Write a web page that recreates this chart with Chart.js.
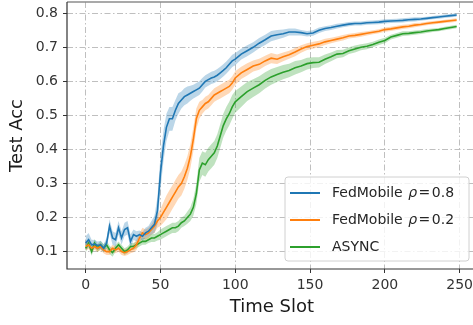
<!DOCTYPE html>
<html>
<head>
<meta charset="utf-8">
<script src="https://cdn.jsdelivr.net/npm/chart.js@4.4.1/dist/chart.umd.min.js"></script>
<style>
  html, body { margin: 0; padding: 0; background: #fff; overflow: hidden; }
  #wrap { width: 480px; height: 325px; }
</style>
</head>
<body>
<div id="wrap"><canvas id="accChart" width="480" height="325"></canvas></div>
<script>
// time slots (dense where the curves climb, sparser later)
const timeSlots = [
    0, 2, 4, 6, 8, 10, 12, 14, 16, 18,
    20, 22, 24, 26, 28, 30, 32, 34, 36, 38,
    40, 42, 44, 46, 48, 50, 52, 54, 56, 58,
    60, 62, 64, 66, 68, 70, 72, 74, 76, 78,
    80, 82, 84, 86, 88, 90, 92, 94, 96, 98,
    100,
    104, 108, 112, 116, 120, 124, 128, 132, 136, 140,
    144, 148, 152, 156, 160, 164, 168, 172, 176, 180,
    184, 188, 192, 196, 200, 204, 208, 212, 216, 220,
    224, 228, 232, 236, 240, 244, 248
];

const fedMobile08 = [
    0.125, 0.135, 0.120, 0.122, 0.118, 0.120, 0.110, 0.125, 0.175, 0.140,
    0.135, 0.170, 0.140, 0.165, 0.170, 0.130, 0.150, 0.145, 0.150, 0.145,
    0.155, 0.160, 0.170, 0.180, 0.220, 0.330, 0.410, 0.465, 0.490, 0.490,
    0.515, 0.535, 0.545, 0.555, 0.560, 0.565, 0.570, 0.575, 0.580, 0.590,
    0.600, 0.605, 0.610, 0.613, 0.618, 0.625, 0.632, 0.640, 0.650, 0.660,
    0.665,
    0.680, 0.690, 0.700, 0.712, 0.722, 0.733, 0.737, 0.740, 0.745, 0.745,
    0.743, 0.740, 0.742, 0.750, 0.755, 0.758, 0.762, 0.765, 0.768, 0.770,
    0.770, 0.772, 0.773, 0.774, 0.776, 0.777, 0.778, 0.779, 0.781, 0.782,
    0.783, 0.785, 0.787, 0.789, 0.791, 0.793, 0.795
];
const fedMobile02 = [
    0.115, 0.120, 0.110, 0.115, 0.110, 0.115, 0.105, 0.100, 0.100, 0.110,
    0.105, 0.110, 0.100, 0.097, 0.100, 0.105, 0.110, 0.120, 0.140, 0.155,
    0.150, 0.155, 0.165, 0.175, 0.190, 0.200, 0.215, 0.230, 0.245, 0.260,
    0.275, 0.290, 0.300, 0.320, 0.345, 0.380, 0.430, 0.490, 0.515, 0.525,
    0.535, 0.540, 0.550, 0.560, 0.565, 0.570, 0.575, 0.580, 0.585, 0.595,
    0.610,
    0.625, 0.635, 0.645, 0.650, 0.660, 0.668, 0.665, 0.672, 0.678, 0.686,
    0.695, 0.702, 0.706, 0.710, 0.716, 0.720, 0.724, 0.728, 0.733, 0.735,
    0.738, 0.741, 0.744, 0.747, 0.752, 0.754, 0.757, 0.760, 0.762, 0.765,
    0.767, 0.770, 0.772, 0.774, 0.776, 0.778, 0.780
];
const asyncAcc = [
    0.110, 0.125, 0.100, 0.125, 0.110, 0.120, 0.110, 0.120, 0.105, 0.097,
    0.110, 0.120, 0.110, 0.100, 0.105, 0.115, 0.115, 0.120, 0.125, 0.130,
    0.130, 0.135, 0.140, 0.140, 0.145, 0.150, 0.155, 0.160, 0.165, 0.170,
    0.170, 0.175, 0.185, 0.190, 0.200, 0.210, 0.230, 0.270, 0.340, 0.360,
    0.355, 0.370, 0.380, 0.390, 0.410, 0.440, 0.470, 0.490, 0.505, 0.525,
    0.540,
    0.555, 0.570, 0.580, 0.590, 0.603, 0.613, 0.620, 0.627, 0.632, 0.640,
    0.645, 0.652, 0.655, 0.656, 0.665, 0.672, 0.680, 0.682, 0.690, 0.695,
    0.700, 0.703, 0.708, 0.715, 0.720, 0.730, 0.735, 0.740, 0.741, 0.743,
    0.745, 0.748, 0.750, 0.752, 0.755, 0.758, 0.761
];

// half width of the shaded bands
const fedMobile08Spread = [
    0.020, 0.020, 0.015, 0.012, 0.012, 0.012, 0.012, 0.015, 0.020, 0.020,
    0.020, 0.020, 0.020, 0.020, 0.020, 0.020, 0.015, 0.015, 0.012, 0.012,
    0.015, 0.015, 0.020, 0.025, 0.040, 0.050, 0.045, 0.040, 0.035, 0.035,
    0.030, 0.030, 0.025, 0.025, 0.025, 0.022, 0.020, 0.020, 0.020, 0.020,
    0.018, 0.018, 0.018, 0.018, 0.018, 0.018, 0.018, 0.018, 0.018, 0.018,
    0.018,
    0.016, 0.016, 0.015, 0.015, 0.015, 0.015, 0.014, 0.012, 0.010, 0.010,
    0.008, 0.008, 0.008, 0.008, 0.007, 0.007, 0.007, 0.006, 0.006, 0.006,
    0.006, 0.006, 0.006, 0.006, 0.006, 0.006, 0.006, 0.006, 0.006, 0.006,
    0.005, 0.005, 0.005, 0.005, 0.005, 0.005, 0.005
];
const fedMobile02Spread = [
    0.012, 0.012, 0.010, 0.010, 0.010, 0.010, 0.010, 0.010, 0.010, 0.010,
    0.010, 0.010, 0.010, 0.010, 0.010, 0.010, 0.012, 0.015, 0.015, 0.015,
    0.015, 0.015, 0.015, 0.020, 0.020, 0.025, 0.030, 0.035, 0.035, 0.035,
    0.035, 0.035, 0.035, 0.035, 0.035, 0.035, 0.035, 0.030, 0.025, 0.020,
    0.020, 0.020, 0.020, 0.020, 0.020, 0.020, 0.020, 0.020, 0.020, 0.020,
    0.020,
    0.018, 0.018, 0.016, 0.016, 0.015, 0.015, 0.014, 0.013, 0.012, 0.012,
    0.011, 0.010, 0.010, 0.009, 0.009, 0.008, 0.008, 0.008, 0.007, 0.007,
    0.007, 0.006, 0.006, 0.006, 0.006, 0.006, 0.006, 0.006, 0.006, 0.006,
    0.005, 0.005, 0.005, 0.005, 0.005, 0.005, 0.005
];
const asyncSpread = [
    0.012, 0.012, 0.012, 0.012, 0.012, 0.012, 0.012, 0.012, 0.012, 0.012,
    0.010, 0.010, 0.010, 0.010, 0.010, 0.010, 0.010, 0.010, 0.010, 0.010,
    0.010, 0.010, 0.012, 0.012, 0.012, 0.015, 0.015, 0.015, 0.015, 0.015,
    0.015, 0.015, 0.015, 0.015, 0.018, 0.020, 0.025, 0.030, 0.035, 0.035,
    0.035, 0.035, 0.035, 0.035, 0.035, 0.035, 0.035, 0.035, 0.035, 0.035,
    0.032,
    0.030, 0.028, 0.026, 0.025, 0.024, 0.023, 0.022, 0.021, 0.020, 0.020,
    0.018, 0.017, 0.016, 0.015, 0.014, 0.013, 0.012, 0.011, 0.010, 0.010,
    0.009, 0.009, 0.008, 0.008, 0.008, 0.007, 0.007, 0.007, 0.006, 0.006,
    0.006, 0.006, 0.005, 0.005, 0.005, 0.005, 0.005
];

const xTicks = [0, 50, 100, 150, 200, 250];
const yTicks = [0.1, 0.2, 0.3, 0.4, 0.5, 0.6, 0.7, 0.8];

const seriesNames = ['FedMobile', 'FedMobile', 'ASYNC'];
const seriesRho = ['0.8', '0.2', null];
const seriesColors = ['#1f77b4', '#ff7f0e', '#2ca02c'];
const bandColors = ['rgba(31,119,180,0.3)', 'rgba(255,127,14,0.3)', 'rgba(44,160,44,0.3)'];

const FONT = '"DejaVu Sans", Verdana, sans-serif';

function toPoints(values, spread, sign) {
    return timeSlots.map((t, i) => ({ x: t, y: values[i] + sign * (spread ? spread[i] : 0) }));
}

function buildDatasets() {
    const means = [fedMobile08, fedMobile02, asyncAcc];
    const spreads = [fedMobile08Spread, fedMobile02Spread, asyncSpread];
    const sets = [];
    means.forEach((vals, k) => {
        sets.push({
            data: toPoints(vals, spreads[k], -1),
            borderWidth: 0, pointRadius: 0, fill: false, order: 2,
            borderColor: 'rgba(0,0,0,0)'
        });
        sets.push({
            data: toPoints(vals, spreads[k], 1),
            borderWidth: 0, pointRadius: 0, order: 2,
            borderColor: 'rgba(0,0,0,0)',
            backgroundColor: bandColors[k],
            fill: '-1'
        });
    });
    means.forEach((vals, k) => {
        sets.push({
            data: toPoints(vals, null, 0),
            borderColor: seriesColors[k],
            borderWidth: 1.6, pointRadius: 0, fill: false, order: 1,
            tension: 0
        });
    });
    return sets;
}

// spines + legend box
const framePlugin = {
    id: 'frame',
    afterDraw(chart) {
        const { ctx, chartArea } = chart;
        ctx.save();
        ctx.strokeStyle = '#8c8c8c';
        ctx.lineWidth = 1.5;
        ctx.beginPath();
        ctx.moveTo(chartArea.left, chartArea.top);
        ctx.lineTo(chartArea.right, chartArea.top);
        ctx.stroke();

        ctx.strokeStyle = '#333';
        ctx.lineWidth = 1.2;
        ctx.beginPath();
        ctx.moveTo(chartArea.left, chartArea.top);
        ctx.lineTo(chartArea.left, chartArea.bottom);
        ctx.lineTo(chartArea.right, chartArea.bottom);
        ctx.stroke();

        // legend
        const bx = 285, by = 177, bw = 184, bh = 84, r = 3;
        ctx.beginPath();
        ctx.moveTo(bx + r, by);
        ctx.arcTo(bx + bw, by, bx + bw, by + bh, r);
        ctx.arcTo(bx + bw, by + bh, bx, by + bh, r);
        ctx.arcTo(bx, by + bh, bx, by, r);
        ctx.arcTo(bx, by, bx + bw, by, r);
        ctx.closePath();
        ctx.fillStyle = 'rgba(255,255,255,0.8)';
        ctx.fill();
        ctx.strokeStyle = '#d0d0d0';
        ctx.lineWidth = 1;
        ctx.stroke();

        const rows = [193, 220, 247];
        ctx.textBaseline = 'middle';
        ctx.fillStyle = '#262626';
        rows.forEach((y, k) => {
            ctx.strokeStyle = seriesColors[k];
            ctx.lineWidth = 2;
            ctx.beginPath();
            ctx.moveTo(290, y);
            ctx.lineTo(320, y);
            ctx.stroke();

            let x = 332;
            ctx.font = '14px ' + FONT;
            ctx.fillText(seriesNames[k], x, y);
            if (seriesRho[k]) {
                x += ctx.measureText(seriesNames[k] + ' ').width + 1;
                ctx.font = 'italic 14px ' + FONT;
                ctx.fillText('\u03c1', x, y);
                x += ctx.measureText('\u03c1').width + 1.5;
                ctx.font = '14px ' + FONT;
                ctx.fillText('=', x, y);
                x += ctx.measureText('=').width + 1.5;
                ctx.fillText(seriesRho[k], x, y);
            }
        });
        ctx.restore();
    }
};

const gridStyle = {
    color: '#b8b8b8',
    lineWidth: 0.9,
    drawTicks: true,
    tickLength: 4,
    tickColor: '#333',
    tickWidth: 1,
    tickBorderDash: []
};
// in chart.js v4 border.dash is what dashes the grid lines; the spines are drawn by the plugin
const borderStyle = { display: false, dash: [6, 2.5, 1.5, 2.5] };

// drop the label padding chart.js adds so the plot box sits where the reference has it
function noEdgePadding(axis) {
    axis.paddingTop = 0;
    axis.paddingBottom = 0;
    axis.paddingLeft = 0;
    axis.paddingRight = 0;
}

document.addEventListener('DOMContentLoaded', () => {
    const ctx = document.getElementById('accChart');
    new Chart(ctx, {
        type: 'line',
        data: { datasets: buildDatasets() },
        options: {
            responsive: false,
            animation: false,
            events: [],
            layout: { padding: { top: 2, right: 3.2, left: 0, bottom: 0 } },
            plugins: {
                legend: { display: false },
                tooltip: { enabled: false }
            },
            scales: {
                x: {
                    type: 'linear',
                    min: -12.45,
                    max: 261.45,
                    afterBuildTicks: axis => { axis.ticks = xTicks.map(v => ({ value: v })); },
                    afterFit: axis => { axis.height = 56; noEdgePadding(axis); },
                    grid: gridStyle,
                    border: borderStyle,
                    ticks: {
                        font: { family: FONT, size: 14 },
                        color: '#333',
                        padding: 4,
                        maxRotation: 0,
                        autoSkip: false
                    },
                    title: {
                        display: true,
                        text: 'Time Slot',
                        font: { family: FONT, size: 18 },
                        color: '#1a1a1a',
                        padding: { top: 0, bottom: 7 }
                    }
                },
                y: {
                    type: 'linear',
                    min: 0.049,
                    max: 0.833,
                    afterBuildTicks: axis => { axis.ticks = yTicks.map(v => ({ value: v })); },
                    afterFit: axis => { axis.width = 67; noEdgePadding(axis); },
                    grid: gridStyle,
                    border: borderStyle,
                    ticks: {
                        font: { family: FONT, size: 14 },
                        color: '#333',
                        padding: 5,
                        autoSkip: false,
                        callback: v => v.toFixed(1)
                    },
                    title: {
                        display: true,
                        text: 'Test Acc',
                        font: { family: FONT, size: 18 },
                        color: '#1a1a1a',
                        padding: { top: 7, bottom: 0 }
                    }
                }
            }
        },
        plugins: [framePlugin]
    });
});
</script>
</body>
</html>
